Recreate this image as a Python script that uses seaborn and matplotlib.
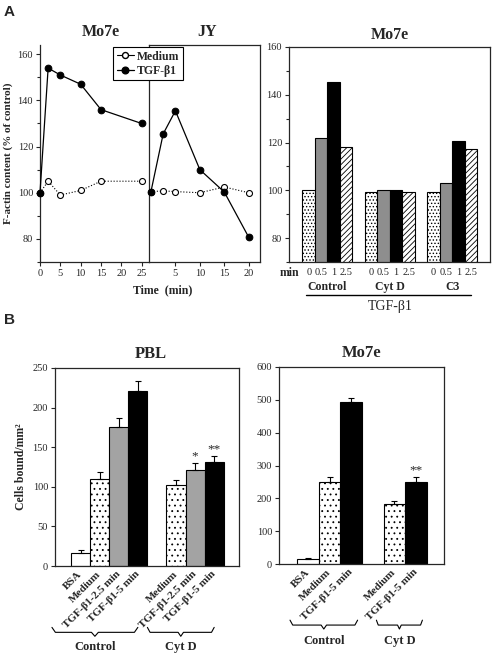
import seaborn as sns
import matplotlib.pyplot as plt
import pandas as pd
import numpy as np
from matplotlib.lines import Line2D
from matplotlib.ticker import MultipleLocator

sns.set_style("ticks")
plt.rcParams['font.family'] = ['Liberation Serif', 'DejaVu Serif']
plt.rcParams['hatch.linewidth'] = 0.6
plt.rcParams['axes.linewidth'] = 0.9
plt.rcParams['xtick.major.size'] = 3
plt.rcParams['ytick.major.size'] = 3
plt.rcParams['ytick.minor.size'] = 2
plt.rcParams['xtick.major.width'] = 0.8
plt.rcParams['ytick.major.width'] = 0.8
plt.rcParams['ytick.minor.width'] = 0.8

# ---- Panel A: F-actin time course
mo7e_time = [0, 2, 5, 10, 15, 25]
mo7e_medium = [100, 105, 99, 101, 105, 105]
mo7e_tgf = [100, 154, 151, 147, 136, 130]
jy_time = [0, 2.5, 5, 10, 15, 20]
jy_medium = [100.5, 100.8, 100.5, 100, 102.5, 100]
jy_tgf = [100.5, 125.5, 135.5, 110, 100.3, 80.7]

# ---- Panel A: F-actin bars, Mo7e
groups_a = ["Control", "Cyt D", "C3"]
minutes_a = ["0", "0.5", "1", "2.5"]
factin_control = [100, 122, 145.3, 118.3]
factin_cytd = [99.2, 100.3, 100.3, 99.2]
factin_c3 = [99.2, 103.2, 120.6, 117.5]

# ---- Panel B: adhesion
pbl_labels = ["BSA", "Medium", "TGF-β1-2.5 min", "TGF-β1-5 min",
              "Medium", "TGF-β1-2.5 min", "TGF-β1-5 min"]
pbl_groups = ["Control", "Control", "Control", "Control", "Cyt D", "Cyt D", "Cyt D"]
pbl_values = [16, 110, 176, 221, 102, 121, 131]
pbl_err = [4, 9, 11, 12, 7, 9, 8]
pbl_stars = ["", "", "", "", "", "*", "**"]

mo7b_labels = ["BSA", "Medium", "TGF-β1-5 min", "Medium", "TGF-β1-5 min"]
mo7b_groups = ["Control", "Control", "Control", "Cyt D", "Cyt D"]
mo7b_values = [14, 251, 492, 184, 251]
mo7b_err = [5, 15, 15, 9, 14]
mo7b_stars = ["", "", "", "", "**"]

W, H = 492, 654
fig = plt.figure(figsize=(W / 100, H / 100), dpi=100)


def px_axes(l, t, r, b):
    return fig.add_axes([l / W, 1 - b / H, (r - l) / W, (b - t) / H])


bold = dict(fontweight='bold')

# ===== A left: Mo7e and JY time courses
ax1 = px_axes(40, 45, 149, 262)
ax2 = px_axes(149, 45, 260, 262)
med_kw = dict(color='black', linestyle=':', lw=0.8, marker='o', markersize=4.3,
              markerfacecolor='white', markeredgecolor='black', markeredgewidth=0.8,
              clip_on=False, zorder=3)
tgf_kw = dict(color='black', linestyle='-', lw=0.9, marker='o', markersize=4.8,
              markerfacecolor='black', markeredgecolor='black', clip_on=False, zorder=4)
sns.lineplot(x=mo7e_time, y=mo7e_medium, ax=ax1, **med_kw)
sns.lineplot(x=mo7e_time, y=mo7e_tgf, ax=ax1, **tgf_kw)
sns.lineplot(x=jy_time, y=jy_medium, ax=ax2, **med_kw)
sns.lineplot(x=jy_time, y=jy_tgf, ax=ax2, **tgf_kw)

for ax in (ax1, ax2):
    ax.set_ylim(70, 164)
    ax.tick_params(labelsize=7.5, pad=2)
ax1.set_xlim(0, 26.8)
ax1.set_xticks([0, 5, 10, 15, 20, 25])
ax1.set_yticks([80, 100, 120, 140, 160])
ax1.yaxis.set_minor_locator(MultipleLocator(10))
ax1.spines['top'].set_visible(False)
ax1.spines['right'].set_visible(False)
ax1.set_ylabel("F-actin content (% of control)", fontsize=8, labelpad=3, **bold)
ax2.set_xlim(-0.4, 22.3)
ax2.set_xticks([5, 10, 15, 20])
ax2.set_yticks([])
ax1.text(0.56, 1.025, "Mo7e", transform=ax1.transAxes, ha='center', va='bottom',
         fontsize=11.5, **bold)
ax2.text(0.52, 1.025, "JY", transform=ax2.transAxes, ha='center', va='bottom',
         fontsize=11.5, **bold)
fig.text(163 / W, 1 - 290 / H, "Time  (min)", ha='center', va='center', fontsize=8.5, **bold)

handles = [Line2D([], [], color='black', lw=0.8, marker='o', markersize=4.3,
                  markerfacecolor='white', markeredgecolor='black'),
           Line2D([], [], color='black', lw=0.9, marker='o', markersize=4.8,
                  markerfacecolor='black')]
leg = fig.legend(handles, ["Medium", "TGF-β1"], loc='upper left',
                 bbox_to_anchor=(113 / W, 1 - 47 / H), frameon=True, fancybox=False,
                 edgecolor='black', framealpha=1, borderpad=0.3, handlelength=1.5,
                 handletextpad=0.2, labelspacing=0.2, borderaxespad=0,
                 prop=dict(size=8.5, weight='bold'))
leg.get_frame().set_linewidth(0.8)

# ===== A right: Mo7e bars
ax3 = px_axes(289, 47, 490, 262)
df_a = pd.DataFrame({
    "group": np.repeat(groups_a, len(minutes_a)),
    "minute": minutes_a * len(groups_a),
    "factin": factin_control + factin_cytd + factin_c3,
})
fills_a = ['white', '#8e8e8e', 'black', 'white']
hatch_a = ['.....', '', '', '//////']
sns.barplot(data=df_a, x="group", y="factin", hue="minute", order=groups_a,
            hue_order=minutes_a, palette=fills_a, width=0.8, edgecolor='black',
            linewidth=0.8, saturation=1, legend=False, ax=ax3)
for cont, h in zip(ax3.containers, hatch_a):
    for p in cont:
        p.set_hatch(h)
ax3.set_xlim(-0.616, 2.605)
ax3.set_ylim(70, 160)
ax3.set_yticks([80, 100, 120, 140, 160])
ax3.yaxis.set_minor_locator(MultipleLocator(10))
ax3.tick_params(axis='y', labelsize=7.5, pad=2)
ax3.set_xlabel("")
ax3.set_ylabel("")
centers = [p.get_x() + p.get_width() / 2 for cont in ax3.containers for p in cont]
ticklabs = [m for m in minutes_a for g in groups_a]
ax3.set_xticks(centers)
ax3.set_xticklabels(ticklabs, fontsize=7.5)
ax3.tick_params(axis='x', length=0, pad=4)
ax3.text(0.0, -0.053, "min", transform=ax3.transAxes, ha='center', va='center',
         fontsize=8.5, **bold)
trans3 = ax3.get_xaxis_transform()
for i, g in enumerate(groups_a):
    ax3.text(i, -0.118, g, transform=trans3, ha='center', va='center', fontsize=8.5, **bold)
ax3.plot([-0.34, 2.3], [-0.155, -0.155], transform=trans3, color='black', lw=1.0,
         clip_on=False)
ax3.text(1, -0.205, "TGF-β1", transform=trans3, ha='center', va='center', fontsize=10)
ax3.text(0.5, 1.02, "Mo7e", transform=ax3.transAxes, ha='center', va='bottom',
         fontsize=11.5, **bold)


# ===== B panels
def brace(ax, x0, x1, y, h=0.025):
    tr = ax.get_xaxis_transform()
    xm = (x0 + x1) / 2
    d = (x1 - x0) * 0.04
    xs = [x0, x0 + d, xm - d, xm, xm + d, x1 - d, x1]
    ys = [y + h, y, y, y - h * 0.8, y, y, y + h]
    ax.plot(xs, ys, transform=tr, color='black', lw=0.8, clip_on=False)


def adhesion(ax, labels, groups, values, err, stars, fills, hatches, ymax, ystep,
             star_off, brace_y, lab_y, brace_ext):
    pos = []
    x = 0
    for i, g in enumerate(groups):
        if i > 0 and g != groups[i - 1]:
            x += 1
        pos.append(x)
        x += 1
    sns.barplot(x=pos, y=values, native_scale=True, width=1, color='white',
                edgecolor='black', linewidth=0.8, saturation=1, ax=ax)
    for p, fc, h in zip(ax.patches, fills, hatches):
        p.set_facecolor(fc)
        p.set_hatch(h)
    ax.errorbar(pos, values, yerr=[np.zeros(len(values)), err], fmt='none',
                ecolor='black', elinewidth=0.8, capsize=2.5, capthick=0.8, zorder=1)
    for x, v, e, s in zip(pos, values, err, stars):
        if s:
            ax.text(x, v + e + star_off, s, ha='center', va='bottom', fontsize=9.5)
    ax.set_ylim(0, ymax)
    ax.yaxis.set_major_locator(MultipleLocator(ystep))
    ax.set_xlim(pos[0] - 1.34, pos[-1] + 1.3)
    ax.set_xticks(pos)
    ax.set_xticklabels(labels, rotation=45, ha='right', va='center',
                       rotation_mode='anchor', fontsize=8, fontweight='bold')
    ax.tick_params(axis='x', length=0, pad=5)
    ax.tick_params(axis='y', labelsize=7.5, pad=2)
    tr = ax.get_xaxis_transform()
    for g in dict.fromkeys(groups):
        gp = [p for p, gg in zip(pos, groups) if gg == g]
        x0, x1 = gp[0] - brace_ext[0], gp[-1] + brace_ext[1]
        brace(ax, x0, x1, brace_y)
        ax.text((x0 + x1) / 2, lab_y, g, transform=tr, ha='center', va='center',
                fontsize=9, **bold)


ax4 = px_axes(55, 368, 239, 566)
adhesion(ax4, pbl_labels, pbl_groups, pbl_values, pbl_err, pbl_stars,
         ['white', 'white', '#a3a3a3', 'black', 'white', '#a3a3a3', 'black'],
         ['', '...', '', '', '...', '', ''], 250, 50, 1, -0.335, -0.41, (1.5, 0.0))
ax4.set_ylabel("Cells bound/mm²", fontsize=8.5, labelpad=4, **bold)
ax4.text(0.52, 1.03, "PBL", transform=ax4.transAxes, ha='center', va='bottom',
         fontsize=12, **bold)

ax5 = px_axes(279, 367, 444, 564)
adhesion(ax5, mo7b_labels, mo7b_groups, mo7b_values, mo7b_err, mo7b_stars,
         ['white', 'white', 'black', 'white', 'black'],
         ['', '...', '', '...', ''], 600, 100, 2, -0.31, -0.39, (0.83, 0.3))
ax5.set_ylabel("")
ax5.text(0.5, 1.03, "Mo7e", transform=ax5.transAxes, ha='center', va='bottom',
         fontsize=12, **bold)

fig.text(4 / W, 1 - 12 / H, "A", fontsize=11, fontweight='bold',
         family=['Liberation Sans', 'DejaVu Sans'], va='center')
fig.text(4 / W, 1 - 320 / H, "B", fontsize=11, fontweight='bold',
         family=['Liberation Sans', 'DejaVu Sans'], va='center')

fig.savefig("out.png", dpi=100, facecolor='white')
